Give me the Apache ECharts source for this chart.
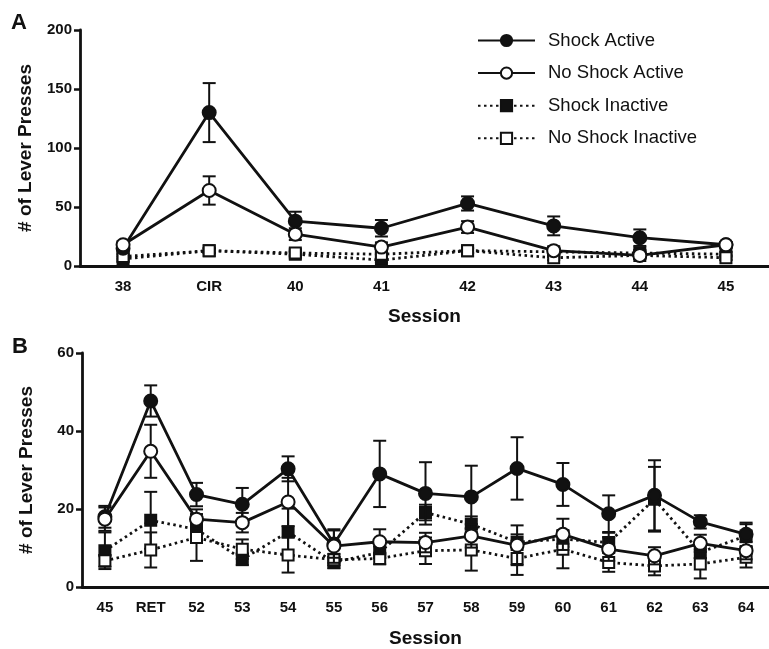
<!DOCTYPE html>
<html>
<head>
<meta charset="utf-8">
<script src="https://cdn.jsdelivr.net/npm/echarts@6/dist/echarts.min.js"></script>
<style>html,body{margin:0;padding:0;background:#fff;}#c{width:769px;height:649px;}</style>
</head>
<body>
<div id="c"></div>
<script>
// ---- Panel A data ----
const catsA = ['38','CIR','40','41','42','43','44','45'];
const shockActiveA      = [15, 130, 38, 32, 53, 34, 24, 18];
const shockActiveAErr   = [3, 25, 8, 7, 6, 8, 7, 2];
const noShockActiveA    = [18, 64, 27, 16, 33, 13, 9, 18];
const noShockActiveAErr = [3, 12, 5, 4, 5, 3, 3, 2];
const shockInactiveA      = [6, 13, 10, 5, 13, 12, 11, 10];
const shockInactiveAErr   = [2, 2, 2, 2, 2, 2, 2, 2];
const noShockInactiveA    = [8, 13, 11, 10, 13, 7, 9, 7];
const noShockInactiveAErr = [2, 2, 2, 2, 2, 2, 2, 2];
const yTicksA = [0, 50, 100, 150, 200];

// ---- Panel B data ----
const catsB = ['45','RET','52','53','54','55','56','57','58','59','60','61','62','63','64'];
const shockActiveB      = [18, 47.7, 23.7, 21.2, 30.3, 11, 29, 24, 23.1, 30.4, 26.3, 18.8, 23.5, 16.7, 13.5];
const shockActiveBErr   = [2.8, 4, 3, 4.2, 3.2, 3.5, 8.5, 8, 8, 8, 5.5, 4.7, 9, 1.7, 3];
const noShockActiveB    = [17.4, 34.8, 17.4, 16.5, 21.8, 10.5, 11.6, 11.4, 13.1, 10.7, 13.5, 9.7, 8, 11.2, 9.3];
const noShockActiveBErr = [3, 6.8, 2.5, 2.5, 6.2, 4.3, 3.2, 2.5, 3, 5.1, 4, 3, 2.2, 2.2, 2.2];
const shockInactiveB      = [9.3, 17.1, 14.8, 7.1, 14.1, 6.3, 8.9, 19.1, 16.1, 11.5, 12.3, 11.4, 22.5, 8.9, 13.1];
const shockInactiveBErr   = [4.7, 7.3, 2, 1.5, 6, 1.5, 1.5, 2, 2, 2, 2, 2.5, 8.3, 1.5, 3];
const noShockInactiveB    = [6.7, 9.5, 12.7, 9.7, 8.2, 7, 7.3, 9.3, 9.5, 7.3, 9.7, 6.3, 5.4, 5.9, 7.6];
const noShockInactiveBErr = [1.5, 4.5, 6, 2.5, 4.5, 1.5, 1.5, 3.4, 5.3, 4.2, 4.9, 2.4, 2.4, 3.7, 2.6];
const yTicksB = [0, 20, 40, 60];

const seriesNames = ['Shock Active', 'No Shock Active', 'Shock Inactive', 'No Shock Inactive'];

const INK = '#111';
const FONT = 'Liberation Sans, Arial, Helvetica, sans-serif';

const styles = {
  'Shock Active':      {symbol: 'circle', size: 13, fill: INK, line: 'solid'},
  'No Shock Active':   {symbol: 'circle', size: 13, fill: '#fff', line: 'solid'},
  'Shock Inactive':    {symbol: 'rect', size: 11, fill: INK, line: [2.5, 3.5]},
  'No Shock Inactive': {symbol: 'rect', size: 11, fill: '#fff', line: [2.5, 3.5]}
};

function errRender(params, api) {
  const x = api.value(0), y = api.value(1), e = api.value(2);
  const t = api.coord([x, y + e]);
  const b = api.coord([x, Math.max(0, y - e)]);
  const hw = 6.5;
  const st = {stroke: INK, lineWidth: 2};
  return {type: 'group', children: [
    {type: 'line', shape: {x1: t[0], y1: t[1], x2: b[0], y2: b[1]}, style: st},
    {type: 'line', shape: {x1: t[0] - hw, y1: t[1], x2: t[0] + hw, y2: t[1]}, style: st},
    {type: 'line', shape: {x1: b[0] - hw, y1: b[1], x2: b[0] + hw, y2: b[1]}, style: st}
  ]};
}

function makeSeries(name, vals, errs, axisIdx, z) {
  const s = styles[name];
  return [
    {
      type: 'custom', name: name + ' err', xAxisIndex: axisIdx, yAxisIndex: axisIdx,
      renderItem: errRender, z: z,
      data: vals.map((v, i) => [i, v, errs[i]]),
      encode: {x: 0, y: 1}, silent: true
    },
    {
      type: 'line', name: name, xAxisIndex: axisIdx, yAxisIndex: axisIdx, z: z + 1,
      data: vals, symbol: s.symbol, symbolSize: s.size, showAllSymbol: true,
      lineStyle: {color: INK, width: 2.8, type: s.line, cap: 'butt'},
      itemStyle: {color: s.fill, borderColor: INK, borderWidth: 2},
      emphasis: {disabled: true}, animation: false
    }
  ];
}

const drawOrder = ['Shock Inactive', 'No Shock Inactive', 'Shock Active', 'No Shock Active'];
const dataA = {
  'Shock Active': [shockActiveA, shockActiveAErr],
  'No Shock Active': [noShockActiveA, noShockActiveAErr],
  'Shock Inactive': [shockInactiveA, shockInactiveAErr],
  'No Shock Inactive': [noShockInactiveA, noShockInactiveAErr]
};
const dataB = {
  'Shock Active': [shockActiveB, shockActiveBErr],
  'No Shock Active': [noShockActiveB, noShockActiveBErr],
  'Shock Inactive': [shockInactiveB, shockInactiveBErr],
  'No Shock Inactive': [noShockInactiveB, noShockInactiveBErr]
};

let series = [];
drawOrder.forEach((n, k) => {
  series = series.concat(makeSeries(n, dataA[n][0], dataA[n][1], 0, 2 + k * 2));
  series = series.concat(makeSeries(n, dataB[n][0], dataB[n][1], 1, 2 + k * 2));
});

function xAxis(cats, idx, nameGap) {
  return {
    type: 'category', data: cats, gridIndex: idx, boundaryGap: true,
    name: 'Session', nameLocation: 'middle', nameGap: nameGap,
    nameTextStyle: {fontFamily: FONT, fontWeight: 'bold', fontSize: 19, color: INK},
    axisLine: {lineStyle: {color: INK, width: 2.8}},
    axisTick: {alignWithLabel: true, length: 7, lineStyle: {color: INK, width: 2.5}},
    axisLabel: {fontFamily: FONT, fontWeight: 'bold', fontSize: 15, color: INK, margin: 13, interval: 0},
    splitLine: {show: false}
  };
}
function yAxis(ticks, idx, nameGap) {
  return {
    type: 'value', gridIndex: idx, min: ticks[0], max: ticks[ticks.length - 1],
    interval: ticks[1] - ticks[0],
    name: '# of Lever Presses', nameLocation: 'middle', nameGap: nameGap, nameRotate: 90,
    nameTextStyle: {fontFamily: FONT, fontWeight: 'bold', fontSize: 19, color: INK},
    axisLine: {show: true, lineStyle: {color: INK, width: 2.8}},
    axisTick: {show: true, length: 6, lineStyle: {color: INK, width: 2.5}},
    axisLabel: {fontFamily: FONT, fontWeight: 'bold', fontSize: 15, color: INK, margin: 8},
    splitLine: {show: false}
  };
}

const chart = echarts.init(document.getElementById('c'), null, {renderer: 'canvas'});
chart.setOption({
  animation: false,
  backgroundColor: '#fff',
  grid: [
    {left: 80, top: 30, width: 695, height: 236},
    {left: 82, top: 353, width: 695, height: 235}
  ],
  xAxis: [xAxis(catsA, 0, 41), xAxis(catsB, 1, 42)],
  yAxis: [yAxis(yTicksA, 0, 45), yAxis(yTicksB, 1, 46)],
  legend: {
    data: seriesNames, orient: 'vertical', left: 477, top: 31, padding: 0,
    itemWidth: 57, itemHeight: 14, itemGap: 13.6,
    textStyle: {fontFamily: FONT, fontSize: 18.5, lineHeight: 16, color: INK, padding: [0, 0, 0, 8]},
    selectedMode: false
  },
  graphic: [
    {type: 'text', left: 11, top: 12, style: {text: 'A', font: 'bold 22px ' + FONT, fill: INK}},
    {type: 'text', left: 12, top: 336, style: {text: 'B', font: 'bold 22px ' + FONT, fill: INK}}
  ],
  series: series
});
</script>
</body>
</html>
